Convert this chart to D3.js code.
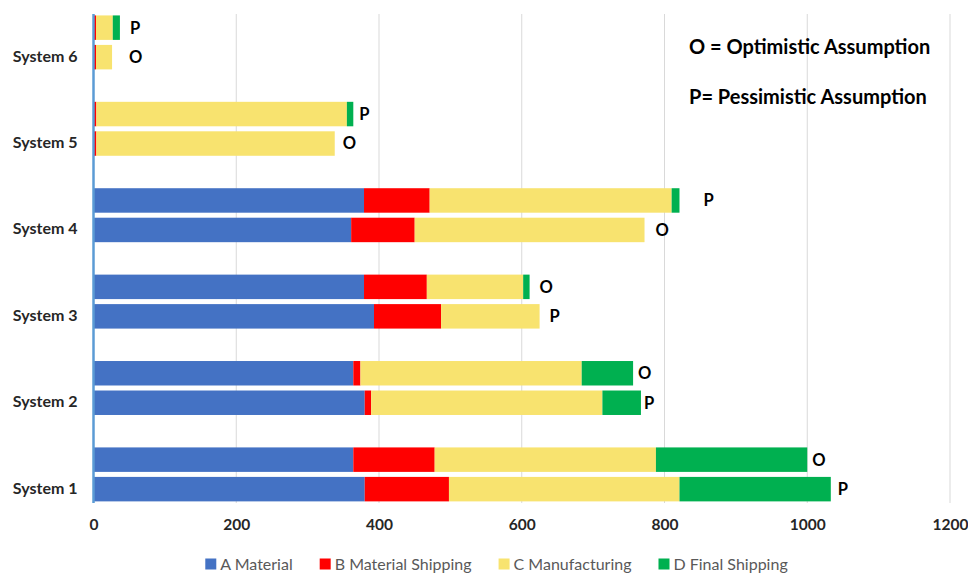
<!DOCTYPE html>
<html>
<head>
<meta charset="utf-8">
<script src="https://cdn.jsdelivr.net/npm/d3@7"></script>
<style>
  html, body { margin: 0; padding: 0; background: #fff; }
  svg { display: block; font-family: Lato, "Open Sans", sans-serif; }
</style>
</head>
<body>
<svg id="chart" width="968" height="575"></svg>
<script>
// Cost build-up per system, optimistic (O) and pessimistic (P) assumptions
const systems = ["System 1", "System 2", "System 3", "System 4", "System 5", "System 6"];
const seriesNames = ["A Material", "B Material Shipping", "C Manufacturing", "D Final Shipping"];
const seriesColors = ["#4472C4", "#FF0000", "#F8E36F", "#00B050"];

// Optimistic assumption
const materialO      = [364, 364, 379, 361, 0, 0];
const matShippingO   = [114, 10, 88, 89, 4, 3.5];
const manufacturingO = [310, 310, 135, 322, 334, 22.5];
const finalShipO     = [212, 72, 9, 0, 0, 0];

// Pessimistic assumption
const materialP      = [380, 380, 393, 379, 0, 0];
const matShippingP   = [118, 9, 94, 92, 4, 3.5];
const manufacturingP = [323, 324, 138, 339, 351, 23.5];
const finalShipP     = [212, 54, 0, 11, 9, 10];

// Which scenario sits on the upper bar of each system's pair
const upperScenario = ["O", "O", "O", "P", "P", "P"];

const xTicks = [0, 200, 400, 600, 800, 1000, 1200];

// Layout: gap (px) between each bar end and its O/P tag
const tagGapO = [5, 5, 10, 11, 8, 17];
const tagGapP = [7, 3, 10, 24, 6, 10];

const svg = d3.select("#chart");
const plotTop = 14, plotBottom = 503;

const x = d3.scaleLinear().domain([0, 1200]).range([93.5, 950]);
const y = d3.scaleBand().domain(systems).range([517.6, -0.8]).paddingInner(0);
const slot = d3.scaleBand().domain(["upper", "lower"]).range([0, y.bandwidth()])
  .paddingInner(0.17).paddingOuter(0.55);

// Rows: one per system and scenario
const rows = [];
systems.forEach((s, i) => {
  ["O", "P"].forEach(sc => {
    const vals = sc === "O"
      ? [materialO[i], matShippingO[i], manufacturingO[i], finalShipO[i]]
      : [materialP[i], matShippingP[i], manufacturingP[i], finalShipP[i]];
    rows.push({
      system: s, scenario: sc, values: vals,
      pos: upperScenario[i] === sc ? "upper" : "lower",
      gap: sc === "O" ? tagGapO[i] : tagGapP[i]
    });
  });
});

// Gridlines
svg.append("g")
  .selectAll("line")
  .data(xTicks.slice(1))
  .join("line")
  .attr("x1", d => x(d)).attr("x2", d => x(d))
  .attr("y1", plotTop).attr("y2", plotBottom)
  .attr("stroke", "#d9d9d9").attr("stroke-width", 1);

// Stacked bars
const barG = svg.append("g");
rows.forEach(r => {
  const y0 = y(r.system) + slot(r.pos);
  let acc = 0;
  r.values.forEach((v, k) => {
    if (v > 0) {
      barG.append("rect")
        .attr("x", x(acc))
        .attr("y", y0)
        .attr("width", x(acc + v) - x(acc))
        .attr("height", slot.bandwidth())
        .attr("fill", seriesColors[k]);
    }
    acc += v;
  });
  r.total = acc;
  r.yc = y0 + slot.bandwidth() / 2;
});

// Scenario tags
svg.append("g")
  .selectAll("text")
  .data(rows)
  .join("text")
  .attr("x", d => x(d.total) + d.gap)
  .attr("y", d => d.yc)
  .attr("dy", "0.36em")
  .attr("font-size", 16.5)
  .attr("font-weight", "bold")
  .attr("fill", "#000")
  .text(d => d.scenario);

// Value axis labels
const xAxis = svg.append("g")
  .attr("transform", `translate(0,${plotBottom})`)
  .call(d3.axisBottom(x).tickValues(xTicks).tickFormat(d3.format("d")).tickSize(0).tickPadding(16));
xAxis.select(".domain").remove();
xAxis.selectAll("text")
  .attr("font-family", "Lato, 'Open Sans', sans-serif")
  .attr("font-size", 15.5).attr("font-weight", "bold").attr("fill", "#262626");

// Category axis line and labels
svg.append("line")
  .attr("x1", x(0)).attr("x2", x(0))
  .attr("y1", plotTop).attr("y2", plotBottom)
  .attr("stroke", "#5B9BD5").attr("stroke-width", 2.5);

const yAxis = svg.append("g")
  .attr("transform", `translate(${x(0)},14)`)
  .call(d3.axisLeft(y).tickSize(0).tickPadding(16));
yAxis.select(".domain").remove();
yAxis.selectAll("text")
  .attr("font-family", "Lato, 'Open Sans', sans-serif")
  .attr("font-size", 16).attr("font-weight", "bold").attr("fill", "#262626");

// Key for the O / P tags
const note = svg.append("g")
  .attr("font-size", 20).attr("font-weight", "bold").attr("fill", "#000");
note.append("text").attr("x", 689).attr("y", 47).attr("dy", "0.36em").text("O = Optimistic Assumption");
note.append("text").attr("x", 689).attr("y", 97).attr("dy", "0.36em").text("P= Pessimistic Assumption");

// Legend
const legend = svg.append("g").attr("transform", "translate(0,564)");
const items = legend.selectAll("g").data(seriesNames).join("g");
items.append("rect")
  .attr("width", 11).attr("height", 11).attr("y", -5.5)
  .attr("fill", (d, i) => seriesColors[i]);
items.append("text")
  .attr("x", 15).attr("dy", "0.36em")
  .attr("font-size", 16).attr("fill", "#595959")
  .text(d => d);
let lx = 0;
const widths = [];
items.each(function () { widths.push(15 + this.querySelector("text").getComputedTextLength()); });
const spacing = 27;
const totalW = d3.sum(widths) + spacing * (widths.length - 1);
lx = 496.5 - totalW / 2;
items.attr("transform", (d, i) => {
  const t = `translate(${lx},0)`;
  lx += widths[i] + spacing;
  return t;
});
</script>
</body>
</html>
